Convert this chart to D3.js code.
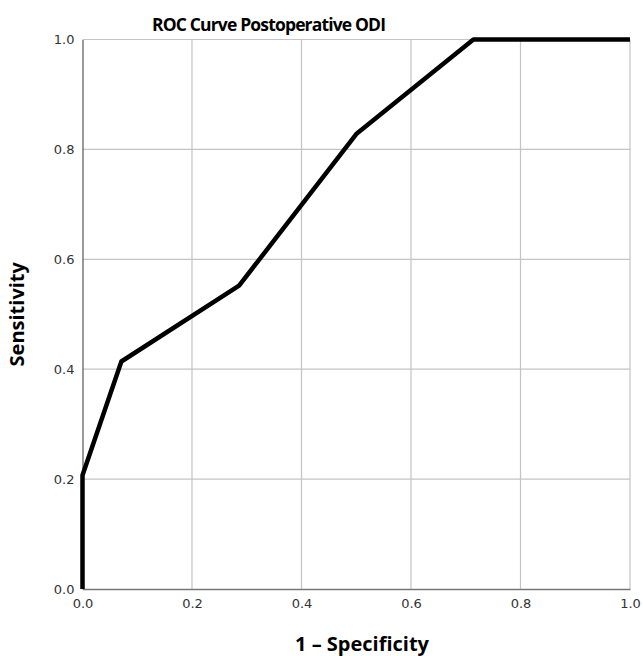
<!DOCTYPE html>
<html>
<head>
<meta charset="utf-8">
<script src="https://cdn.jsdelivr.net/npm/d3@7"></script>
<style>
  body { margin: 0; background: #fff; }
  text { font-family: "Open Sans", "DejaVu Sans", sans-serif; }
</style>
</head>
<body>
<svg id="chart" width="643" height="656"></svg>
<script>
// ROC points
const fpr = [0, 0, 0.071, 0.286, 0.5, 0.714, 1];
const tpr = [0, 0.207, 0.414, 0.552, 0.828, 1, 1];
const tickValues = [0, 0.2, 0.4, 0.6, 0.8, 1];

const svg = d3.select('#chart');
const margin = { left: 82.5, right: 13, top: 39.5, bottom: 67 };
const width = 643 - margin.left - margin.right;
const height = 656 - margin.top - margin.bottom;

const x = d3.scaleLinear().domain([0, 1]).range([margin.left, margin.left + width]);
const y = d3.scaleLinear().domain([0, 1]).range([margin.top + height, margin.top]);

// gridlines
svg.append('g')
  .selectAll('line')
  .data(tickValues.slice(1))
  .enter().append('line')
  .attr('x1', d => x(d)).attr('x2', d => x(d))
  .attr('y1', y(0)).attr('y2', y(1))
  .attr('stroke', '#c4c4c4').attr('stroke-width', 1.2);

svg.append('g')
  .selectAll('line')
  .data(tickValues.slice(1))
  .enter().append('line')
  .attr('x1', x(0)).attr('x2', x(1))
  .attr('y1', d => y(d)).attr('y2', d => y(d))
  .attr('stroke', '#c4c4c4').attr('stroke-width', 1.2);

// axes
const xAxis = svg.append('g')
  .attr('transform', `translate(0,${y(0)})`)
  .call(d3.axisBottom(x).tickValues(tickValues).tickFormat(d3.format('.1f')).tickSize(0).tickPadding(8));
const yAxis = svg.append('g')
  .attr('transform', `translate(${x(0)},0)`)
  .call(d3.axisLeft(y).tickValues(tickValues).tickFormat(d3.format('.1f')).tickSize(0).tickPadding(8));

[xAxis, yAxis].forEach(a => {
  a.select('.domain').attr('stroke', '#777').attr('stroke-width', 1.5);
  a.selectAll('text').attr('fill', '#333').style('font-size', '13px')
    .style('font-family', '"DejaVu Sans", sans-serif');
});
xAxis.selectAll('text').attr('dy', '0.85em');

// curve
const line = d3.line().x(d => x(d[0])).y(d => y(d[1]));
svg.append('path')
  .datum(fpr.map((d, i) => [d, tpr[i]]))
  .attr('d', line)
  .attr('fill', 'none')
  .attr('stroke', '#000')
  .attr('stroke-width', 4.5)
  .attr('stroke-linejoin', 'round');

// titles
svg.append('text')
  .attr('x', 269).attr('y', 31)
  .attr('text-anchor', 'middle')
  .style('font-size', '17.5px').style('font-weight', 'bold')
  .attr('textLength', 234)
  .text('ROC Curve Postoperative ODI');

svg.append('text')
  .attr('x', 362).attr('y', 651)
  .attr('text-anchor', 'middle')
  .style('font-size', '20px').style('font-weight', 'bold')
  .text('1 – Specificity');

svg.append('text')
  .attr('transform', `translate(24,${(y(0) + y(1)) / 2}) rotate(-90)`)
  .attr('text-anchor', 'middle')
  .style('font-size', '20px').style('font-weight', 'bold')
  .text('Sensitivity');
</script>
</body>
</html>
